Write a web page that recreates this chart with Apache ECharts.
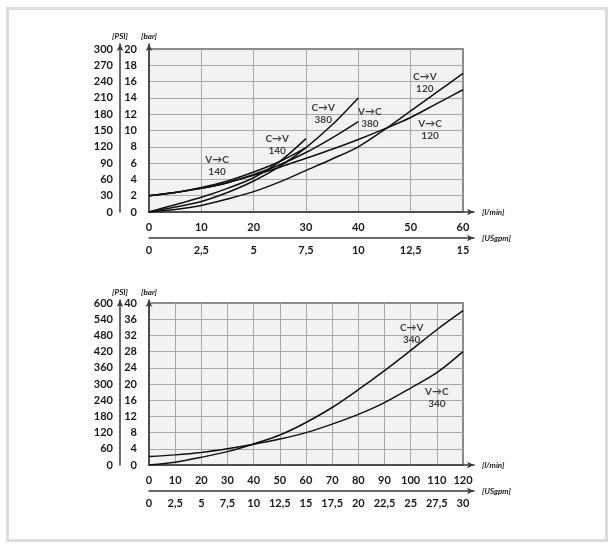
<!DOCTYPE html>
<html>
<head>
<meta charset="utf-8">
<script src="https://cdn.jsdelivr.net/npm/echarts@6/dist/echarts.min.js"></script>
<style>
  html, body { margin: 0; padding: 0; background: #fff; }
  #chart { position: absolute; left: 0; top: 0; width: 616px; height: 548px; }
  .frame {
    position: absolute; left: 6px; top: 7px; width: 596px; height: 529px;
    border: 3px solid #dcdcdc; pointer-events: none;
  }
</style>
</head>
<body>
<div id="chart"></div>
<div class="frame"></div>
<script>
// flow points (l/min) used by the curves
const topFlow = [0, 5, 10, 15, 20, 25, 30, 35, 40, 45, 50, 55, 60];
const bottomFlow = [0, 10, 20, 30, 40, 50, 60, 70, 80, 90, 100, 110, 120];

// pressure drop (bar), top chart
const cv140 = [0, 0.9, 1.8, 2.9, 4.2, 6.2, 9.0];
const vc140 = [2.0, 2.4, 3.0, 3.8, 4.9, 6.2, 7.9];
const cv380 = [0, 0.6, 1.3, 2.4, 3.8, 5.6, 7.9, 10.7, 14.0];
const vc380 = [2.0, 2.4, 2.9, 3.6, 4.6, 5.8, 7.3, 9.1, 11.1];
const cv120 = [0, 0.3, 0.8, 1.6, 2.5, 3.7, 5.1, 6.5, 8.0, 10.1, 12.4, 14.7, 17.0];
const vc120 = [2.0, 2.4, 2.9, 3.6, 4.5, 5.5, 6.6, 7.7, 8.9, 10.2, 11.6, 13.3, 15.0];

// pressure drop (bar), bottom chart
const cv340 = [0, 0.7, 1.9, 3.3, 5.2, 7.4, 10.5, 14.2, 18.6, 23.3, 28.3, 33.4, 38.1];
const vc340 = [2.1, 2.5, 3.1, 4.0, 5.1, 6.4, 8.0, 10.1, 12.5, 15.4, 19.0, 22.8, 28.0];

// curve annotations [l/min, bar, text]
const topLabels = [
  [13.0, 5.7, 'V→C\n140'],
  [24.5, 8.2, 'C→V\n140'],
  [33.3, 12.1, 'C→V\n380'],
  [42.2, 11.5, 'V→C\n380'],
  [52.7, 15.9, 'C→V\n120'],
  [53.7, 10.1, 'V→C\n120']
];
const bottomLabels = [
  [100.4, 32.4, 'C→V\n340'],
  [110.0, 16.5, 'V→C\n340']
];

// axis ranges
const topBar = { max: 20, step: 2 };
const topPsi = { max: 300, step: 30 };
const topLmin = { max: 60, step: 10 };
const topGpm = { max: 15, step: 2.5 };
const botBar = { max: 40, step: 4 };
const botPsi = { max: 600, step: 60 };
const botLmin = { max: 120, step: 10 };
const botGpm = { max: 30, step: 2.5 };

const FONT = 'Lato, "Open Sans", sans-serif';
const TEXT = '#1a1a1a';
const AXIS = '#3a3a3a';
const GRIDLINE = '#a8a8a8';

function pairs(flow, values) {
  return values.map((v, i) => [flow[i], v]);
}

const tickLabel = (margin, extra) => Object.assign({
  color: TEXT, fontFamily: FONT, fontWeight: 'bold', fontSize: 11, margin
}, extra || {});

const comma = (v) => String(v).replace('.', ',');

const nameStyle = {
  color: TEXT, fontFamily: FONT, fontWeight: 'bold', fontStyle: 'italic', fontSize: 8
};

function arrowLine() {
  return {
    show: true, onZero: false, symbol: ['none', 'arrow'], symbolSize: [5, 7],
    lineStyle: { color: AXIS, width: 1.5 }
  };
}

// axes for one chart: grid g (plot, labels), grid g+1 (arrowed lines)
function xAxesFor(g, lmin, gpm) {
  return [
    {
      gridIndex: g, type: 'value', min: 0, max: lmin.max, interval: lmin.step,
      position: 'bottom', axisLine: { show: false, onZero: false }, axisTick: { show: false },
      axisLabel: tickLabel(10),
      splitLine: { show: true, showMinLine: false, showMaxLine: false, lineStyle: { color: GRIDLINE, width: 1 } }
    },
    {
      gridIndex: g, type: 'value', min: 0, max: gpm.max, interval: gpm.step,
      position: 'bottom', offset: 26, axisLine: { show: false, onZero: false }, axisTick: { show: false },
      axisLabel: tickLabel(7, { formatter: comma }), splitLine: { show: false }
    },
    {
      gridIndex: g + 1, type: 'value', min: 0, max: 1, position: 'bottom',
      axisLine: arrowLine(), axisTick: { show: false }, axisLabel: { show: false }, splitLine: { show: false },
      name: '[l/min]', nameLocation: 'end', nameGap: 8, nameTextStyle: nameStyle
    },
    {
      gridIndex: g + 1, type: 'value', min: 0, max: 1, position: 'bottom', offset: 26,
      axisLine: arrowLine(), axisTick: { show: false }, axisLabel: { show: false }, splitLine: { show: false },
      name: '[USgpm]', nameLocation: 'end', nameGap: 8, nameTextStyle: nameStyle
    }
  ];
}

function yAxesFor(g, bar, psi) {
  return [
    {
      gridIndex: g, type: 'value', min: 0, max: bar.max, interval: bar.step,
      position: 'left', axisLine: { show: false, onZero: false }, axisTick: { show: false },
      axisLabel: tickLabel(12),
      splitLine: { show: true, showMinLine: false, showMaxLine: false, lineStyle: { color: GRIDLINE, width: 1 } }
    },
    {
      gridIndex: g, type: 'value', min: 0, max: psi.max, interval: psi.step,
      position: 'left', offset: 29, axisLine: { show: false, onZero: false }, axisTick: { show: false },
      axisLabel: tickLabel(7), splitLine: { show: false }
    },
    {
      gridIndex: g + 1, type: 'value', min: 0, max: 1, position: 'left',
      axisLine: arrowLine(), axisTick: { show: false }, axisLabel: { show: false }, splitLine: { show: false },
      name: '[bar]', nameLocation: 'end', nameGap: 4, nameTextStyle: nameStyle
    },
    {
      gridIndex: g + 1, type: 'value', min: 0, max: 1, position: 'left', offset: 29,
      axisLine: arrowLine(), axisTick: { show: false }, axisLabel: { show: false }, splitLine: { show: false },
      name: '[PSI]', nameLocation: 'end', nameGap: 4, nameTextStyle: nameStyle
    }
  ];
}

function curve(flow, values, xi, yi) {
  return {
    type: 'line', xAxisIndex: xi, yAxisIndex: yi, data: pairs(flow, values),
    smooth: 0.3, showSymbol: false, silent: true,
    lineStyle: { color: '#111', width: 1.5 }, z: 5
  };
}

function labels(items, xi, yi) {
  return {
    type: 'scatter', xAxisIndex: xi, yAxisIndex: yi, symbolSize: 0, silent: true, z: 6,
    data: items.map((d) => ({ value: [d[0], d[1]], name: d[2] })),
    label: {
      show: true, position: 'inside', formatter: (p) => p.name,
      color: '#111', fontFamily: FONT, fontWeight: 'bold', fontSize: 10, lineHeight: 12
    }
  };
}

const plotGrid = {
  show: true, backgroundColor: '#f3f1f3', borderColor: '#8c8c8c', borderWidth: 2
};

const option = {
  animation: false,
  backgroundColor: '#ffffff',
  grid: [
    Object.assign({ left: 149, right: 153, top: 49, bottom: 336 }, plotGrid),
    { left: 149, right: 142, top: 44, bottom: 336 },
    Object.assign({ left: 149, right: 153, top: 303, bottom: 83 }, plotGrid),
    { left: 149, right: 142, top: 300, bottom: 83 }
  ],
  xAxis: [].concat(xAxesFor(0, topLmin, topGpm), xAxesFor(2, botLmin, botGpm)),
  yAxis: [].concat(yAxesFor(0, topBar, topPsi), yAxesFor(2, botBar, botPsi)),
  series: [
    curve(topFlow, cv140, 0, 0),
    curve(topFlow, vc140, 0, 0),
    curve(topFlow, cv380, 0, 0),
    curve(topFlow, vc380, 0, 0),
    curve(topFlow, cv120, 0, 0),
    curve(topFlow, vc120, 0, 0),
    labels(topLabels, 0, 0),
    curve(bottomFlow, cv340, 4, 4),
    curve(bottomFlow, vc340, 4, 4),
    labels(bottomLabels, 4, 4)
  ]
};

const chart = echarts.init(document.getElementById('chart'), null, { renderer: 'canvas' });
chart.setOption(option);
</script>
</body>
</html>
